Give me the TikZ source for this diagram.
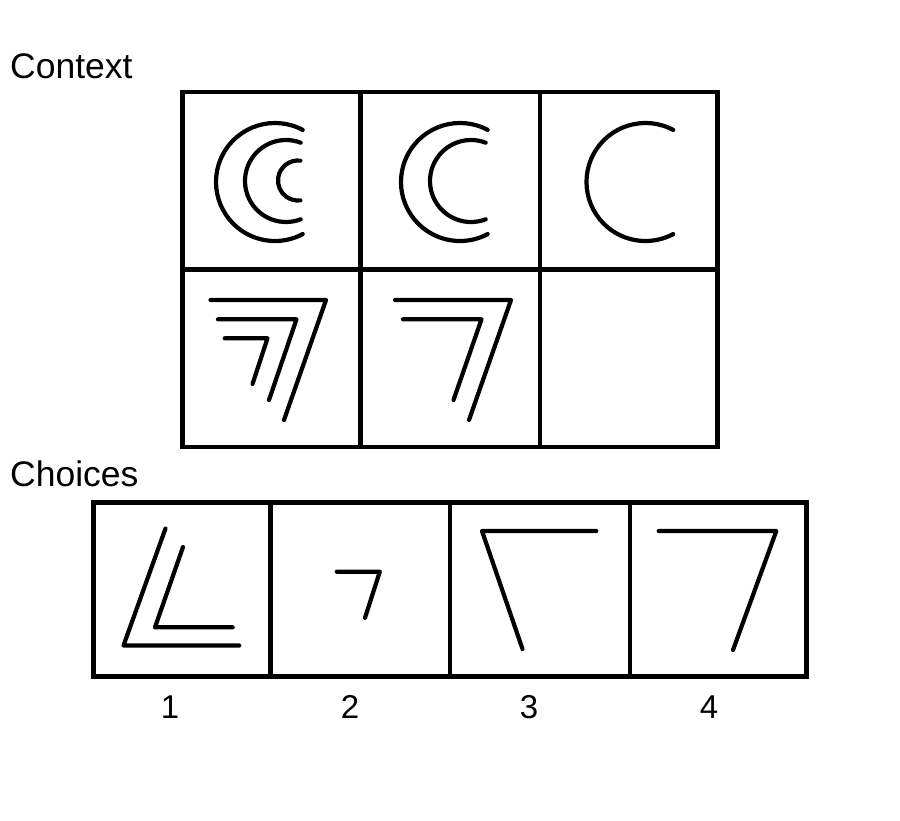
\documentclass[tikz,border=0pt]{standalone}
\usepackage{fontspec}
\setmainfont{Liberation Sans}
\begin{document}
\begin{tikzpicture}[x=1pt,y=-1pt,
  gridline/.style={line width=4.5pt},
  glyph/.style={line width=4.2pt, line cap=round, line join=round},
  title/.style={font=\fontsize{35.5}{42}\selectfont, anchor=base west, inner sep=0pt},
  num/.style={font=\fontsize{33}{40}\selectfont, anchor=base, inner sep=0pt}]
\useasboundingbox (0,0) rectangle (900,820);
\fill[white] (0,0) rectangle (900,820);

% titles
\node[title] (ctx) at (10,78.5) {Context};
\node[title] (chc) at (10,486) {Choices};

% context grid
\draw[gridline] (182.5,92) rectangle (717.5,447);
\draw[gridline] (360.5,92) -- (360.5,447);
\draw[gridline] (540,92) -- (540,447);
\draw[gridline] (182.5,269.5) -- (717.5,269.5);

% row 1: arcs
\draw[glyph] ([shift={(62:59pt)}]275,182) arc[start angle=62, end angle=298, radius=59pt];
\draw[glyph] ([shift={(69:41pt)}]286,181) arc[start angle=69, end angle=291, radius=41pt];
\draw[glyph] ([shift={(83:20pt)}]298,180.5) arc[start angle=83, end angle=277, radius=20pt];

\draw[glyph] ([shift={(62:59pt)}]460,182) arc[start angle=62, end angle=298, radius=59pt];
\draw[glyph] ([shift={(69:41pt)}]471,181) arc[start angle=69, end angle=291, radius=41pt];

\draw[glyph] ([shift={(62:59pt)}]645.5,182) arc[start angle=62, end angle=298, radius=59pt];

% row 2: sevens
\draw[glyph] (210.5,300) -- (326,300) -- (284,420);
\draw[glyph] (218,319.3) -- (296.5,319.3) -- (269,400);
\draw[glyph] (224.7,338.3) -- (267.5,338.3) -- (252.5,384);

\draw[glyph] (395,300) -- (511,300) -- (469,420);
\draw[glyph] (403,319.3) -- (481.5,319.3) -- (453.5,400);

% choices grid
\draw[gridline] (93.5,502.5) rectangle (806.5,676.7);
\draw[gridline] (270.5,502.5) -- (270.5,676.7);
\draw[gridline] (450,502.5) -- (450,676.7);
\draw[gridline] (630,502.5) -- (630,676.7);

% choice 1
\draw[glyph] (165.5,528.5) -- (123.5,645.5) -- (239.3,645.5);
\draw[glyph] (183,547) -- (155,627.3) -- (232.7,627.3);
% choice 2
\draw[glyph] (336.7,571.7) -- (379.8,571.7) -- (365,617.8);
% choice 3
\draw[glyph] (596.3,531) -- (482,531) -- (522.5,649);
% choice 4
\draw[glyph] (658.7,531) -- (776.3,531) -- (733,650);

% numbers
\node[num] (n1) at (170,718.5) {1};
\node[num] (n2) at (350,718.5) {2};
\node[num] (n3) at (529,718.5) {3};
\node[num] (n4) at (709,718.5) {4};
\end{tikzpicture}
\end{document}
